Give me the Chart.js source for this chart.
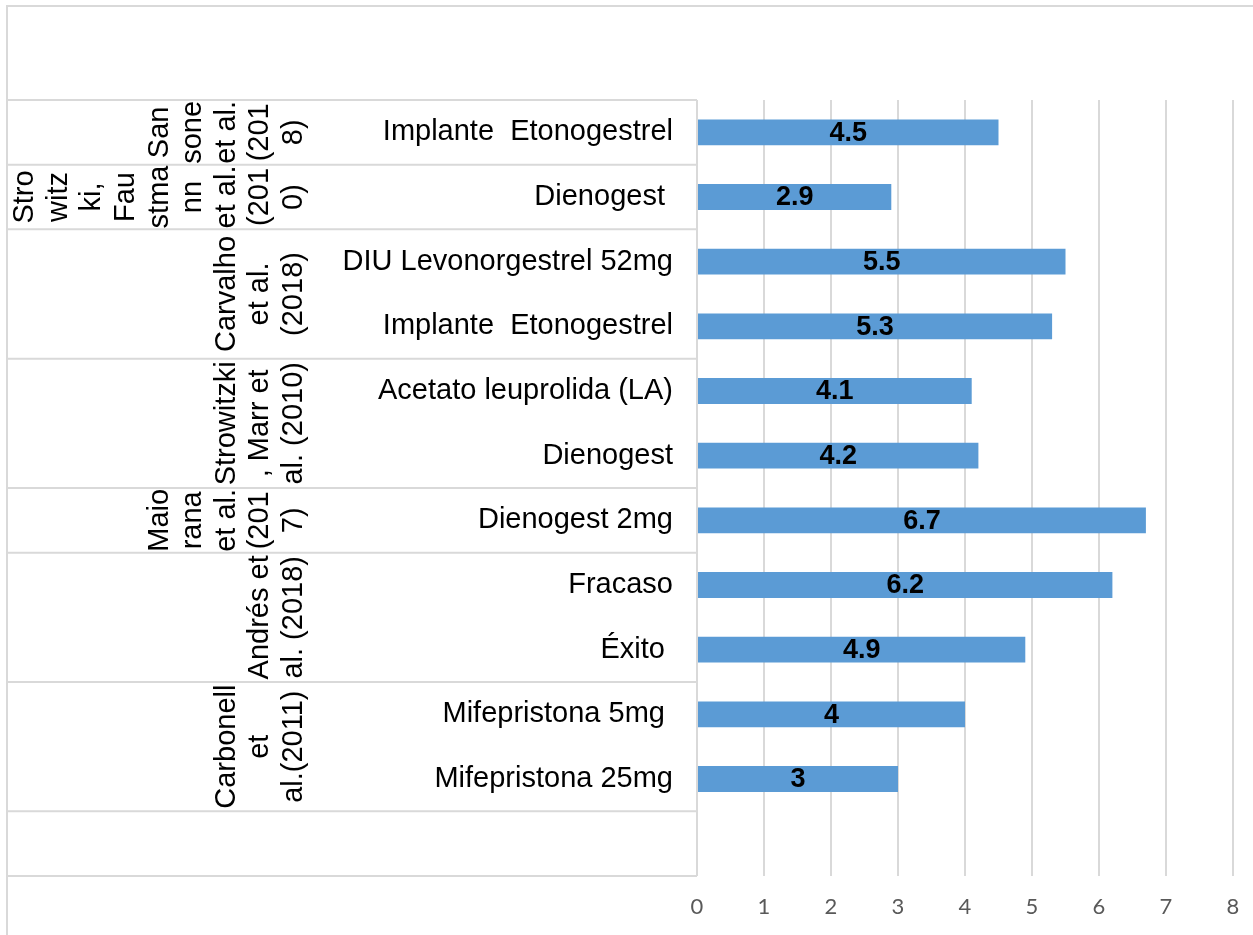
<!DOCTYPE html>
<html>
<head>
<meta charset="utf-8">
<script src="https://cdn.jsdelivr.net/npm/chart.js@4/dist/chart.umd.min.js"></script>
<style>
  html, body { margin: 0; padding: 0; background: #ffffff; }
  #wrap { width: 1253px; height: 935px; }
</style>
</head>
<body>
<div id="wrap"><canvas id="c" width="1253" height="935"></canvas></div>
<script>
// Treatment labels (inner category level), top to bottom; last row is an empty slot
const treatments = [
  'Implante  Etonogestrel',
  'Dienogest ',
  'DIU Levonorgestrel 52mg',
  'Implante  Etonogestrel',
  'Acetato leuprolida (LA)',
  'Dienogest',
  'Dienogest 2mg',
  'Fracaso',
  'Éxito ',
  'Mifepristona 5mg ',
  'Mifepristona 25mg',
  ''
];

// Values shown on the bars
const values = [4.5, 2.9, 5.5, 5.3, 4.1, 4.2, 6.7, 6.2, 4.9, 4, 3, null];

// Study labels (outer category level), already wrapped into lines
const studyLines = [
  ['San', 'sone', 'et al.', '(201', '8)'],
  ['Stro', 'witz', 'ki,', 'Fau', 'stma', 'nn', 'et al.', '(201', '0)'],
  ['Carvalho', 'et al.', '(2018)'],
  ['Strowitzki', ', Marr et', 'al. (2010)'],
  ['Maio', 'rana', 'et al.', '(201', '7)'],
  ['Andrés et', 'al. (2018)'],
  ['Carbonell', 'et', 'al.(2011)'],
  []
];
// First and last treatment row covered by each study
const studyFirst = [0, 1, 2, 4, 6, 7, 9, 11];
const studyLast  = [0, 1, 3, 5, 6, 8, 10, 11];

// Value axis ticks
const xTicks = [0, 1, 2, 3, 4, 5, 6, 7, 8];

const GRID = '#d9d9d9';
const LABEL_FONT = '29px "Liberation Sans", Arial, sans-serif';

// White background and the outer chart frame
const framePlugin = {
  id: 'frame',
  beforeDraw(chart) {
    const ctx = chart.ctx;
    ctx.save();
    ctx.fillStyle = '#ffffff';
    ctx.fillRect(0, 0, chart.width, chart.height);
    ctx.strokeStyle = GRID;
    ctx.lineWidth = 2;
    ctx.beginPath();
    ctx.moveTo(7, chart.height);
    ctx.lineTo(7, 6);
    ctx.lineTo(chart.width, 6);
    ctx.stroke();
    ctx.restore();
  }
};

// Study separators and rotated study names on the category side
const studyPlugin = {
  id: 'studies',
  afterDraw(chart) {
    const ctx = chart.ctx;
    const y = chart.scales.y;
    const area = chart.chartArea;
    const step = (y.getPixelForValue(1) - y.getPixelForValue(0));
    ctx.save();
    ctx.strokeStyle = GRID;
    ctx.lineWidth = 2;
    const edges = new Set();
    studyFirst.forEach((f, i) => {
      edges.add(y.getPixelForValue(f) - step / 2);
      edges.add(y.getPixelForValue(studyLast[i]) + step / 2);
    });
    ctx.beginPath();
    edges.forEach(py => {
      ctx.moveTo(7, py);
      ctx.lineTo(area.left, py);
    });
    ctx.stroke();

    ctx.fillStyle = '#000000';
    ctx.font = LABEL_FONT;
    ctx.textAlign = 'center';
    ctx.textBaseline = 'alphabetic';
    const lastBaseline = 302;
    const lineGap = 33.6;
    studyLines.forEach((lines, i) => {
      const top = y.getPixelForValue(studyFirst[i]) - step / 2;
      const bottom = y.getPixelForValue(studyLast[i]) + step / 2;
      const cy = (top + bottom) / 2;
      const n = lines.length;
      lines.forEach((txt, k) => {
        const bx = lastBaseline - lineGap * (n - 1 - k);
        ctx.save();
        ctx.translate(bx, cy);
        ctx.rotate(-Math.PI / 2);
        ctx.fillText(txt, 0, 0);
        ctx.restore();
      });
    });
    ctx.restore();
  }
};

// Bold value labels centred inside each bar
const valueLabelPlugin = {
  id: 'valueLabels',
  afterDatasetsDraw(chart) {
    const ctx = chart.ctx;
    const meta = chart.getDatasetMeta(0);
    ctx.save();
    ctx.fillStyle = '#000000';
    ctx.font = 'bold 27px "Liberation Sans", Arial, sans-serif';
    ctx.textAlign = 'center';
    ctx.textBaseline = 'middle';
    meta.data.forEach((bar, i) => {
      const v = values[i];
      if (v === null || v === undefined) return;
      const p = bar.getProps(['x', 'y', 'base'], true);
      ctx.fillText(String(v), (p.x + p.base) / 2, p.y + 1);
    });
    ctx.restore();
  }
};

new Chart(document.getElementById('c'), {
  type: 'bar',
  data: {
    labels: treatments,
    datasets: [{
      data: values,
      backgroundColor: '#5B9BD5',
      borderWidth: 0,
      barPercentage: 0.4,
      categoryPercentage: 1.0
    }]
  },
  options: {
    indexAxis: 'y',
    responsive: false,
    animation: false,
    devicePixelRatio: 1,
    layout: { padding: { top: 100, right: 20, left: 0, bottom: 0 } },
    plugins: {
      legend: { display: false },
      title: { display: false },
      tooltip: { enabled: false }
    },
    scales: {
      x: {
        min: xTicks[0],
        max: xTicks[xTicks.length - 1],
        afterBuildTicks(scale) {
          scale.ticks = xTicks.map(v => ({ value: v }));
        },
        ticks: {
          color: '#595959',
          font: { family: 'Lato', size: 22 },
          padding: 18
        },
        grid: { color: GRID, lineWidth: 2, drawTicks: false },
        border: { display: false },
        afterFit(scale) {
          scale.height = 59;
          scale.paddingLeft = 0;
          scale.paddingRight = 0;
        }
      },
      y: {
        grid: { display: false, drawTicks: false },
        border: { display: false },
        ticks: {
          autoSkip: false,
          padding: 24,
          color: '#000000',
          font: { family: '"Liberation Sans", Arial, sans-serif', size: 29 }
        },
        afterFit(scale) { scale.width = 697; }
      }
    }
  },
  plugins: [framePlugin, studyPlugin, valueLabelPlugin]
});
</script>
</body>
</html>
